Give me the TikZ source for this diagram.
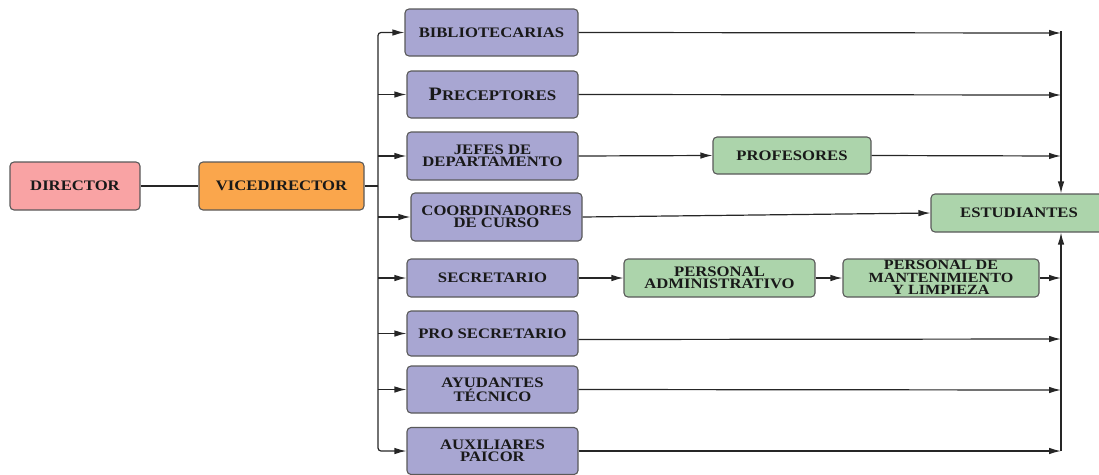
\documentclass[tikz,border=0pt]{standalone}
\usepackage{fontspec}
\newfontfamily\lab[FakeStretch=1.15]{Liberation Serif}
\usetikzlibrary{arrows.meta}
\definecolor{cdir}{RGB}{249,163,164}
\definecolor{cvice}{RGB}{250,166,76}
\definecolor{cpur}{RGB}{168,166,210}
\definecolor{cgrn}{RGB}{172,212,171}
\begin{document}
\begin{tikzpicture}[x=1pt,y=-1pt,
 box/.style={draw=black!65, line width=1.1pt, rounded corners=4pt, align=center,
   font=\lab\bfseries\fontsize{14.5}{12.5}\selectfont, inner sep=0pt, text=black!90},
 pur/.style={box, fill=cpur},
 grn/.style={box, fill=cgrn},
 txt/.style={align=center, inner sep=0pt, font=\lab\bfseries\fontsize{14.5}{12.5}\selectfont, text=black!90},
 arr/.style={-{Latex[length=12pt,width=6.5pt]}, line width=1.2pt, draw=black!85},
 ln/.style={line width=1.2pt, draw=black!85}]
\useasboundingbox (0,0) rectangle (1099,474);
% left column
\node[box, fill=cdir, minimum width=130pt, minimum height=48pt] (dir) at (75,186) {DIRECTOR};
\node[box, fill=cvice, minimum width=165pt, minimum height=48pt] (vice) at (281.5,186) {VICEDIRECTOR};
% middle column
\node[pur, minimum width=173pt, minimum height=47pt] (bib) at (491.5,32.5) {BIBLIOTECARIAS};
\node[pur, minimum width=171pt, minimum height=47pt] (pre) at (492.5,94.5) {{\fontsize{19}{19}\selectfont P}{\fontsize{14.7}{14}\selectfont RECEPTORES}};
\node[pur, minimum width=171pt, minimum height=48pt] (jef) at (492.5,156) {JEFES DE\\DEPARTAMENTO};
\node[pur, minimum width=171pt, minimum height=48pt] (coo) at (496.5,217) {COORDINADORES\\DE CURSO};
\node[pur, minimum width=171pt, minimum height=38pt] (sec) at (492.5,278) {SECRETARIO};
\node[pur, minimum width=171pt, minimum height=45pt] (pro) at (492.5,333.5) {PRO SECRETARIO};
\node[pur, minimum width=171pt, minimum height=47pt] (ayu) at (492.5,389.5) {AYUDANTES\\TÉCNICO};
\node[pur, minimum width=171pt, minimum height=47pt] (aux) at (492.5,451) {AUXILIARES\\PAICOR};
% right part
\node[grn, minimum width=158pt, minimum height=37pt] (prof) at (792,155.5) {PROFESORES};
\node[grn, minimum width=176pt, minimum height=38pt] (est) at (1019,213) {ESTUDIANTES};
\node[grn, minimum width=191pt, minimum height=38pt] (adm) at (719.5,278) {PERSONAL\\ADMINISTRATIVO};
\node[grn, minimum width=196pt, minimum height=38pt] (mant) at (941,278) {};
\node[txt, font=\lab\bfseries\fontsize{14}{12.8}\selectfont] (mantt) at (941,277.5) {PERSONAL DE\\MANTENIMIENTO\\Y LIMPIEZA};
% coordinates
\coordinate (lb) at (378,186);
\coordinate (r1) at (1061,33);
\coordinate (r2) at (1061,95);
\coordinate (r3) at (1061,156);
\coordinate (r5) at (1061,278);
\coordinate (r6) at (1061,339);
\coordinate (r7) at (1061,390);
\coordinate (r8) at (1061,451);
% connectors
\draw[ln] (dir.east) -- (vice.west);
\draw[ln] (vice.east) -- (lb);
\draw[arr, rounded corners=3pt] (lb) |- (bib.west);
\draw[arr, rounded corners=3pt] (lb) |- (aux.west);
\foreach \n in {pre,jef,coo,sec,pro,ayu}{\draw[arr] (lb |- \n.west) -- (\n.west);}
\draw[arr] (bib.east) -- (r1);
\draw[arr] (pre.east) -- (r2);
\draw[arr] (jef.east) -- (prof.west);
\draw[arr] (prof.east) -- (r3);
\draw[arr] (coo.east) -- (est.west);
\draw[arr] (sec.east) -- (adm.west);
\draw[arr] (adm.east) -- (mant.west);
\draw[arr] (mant.east) -- (r5);
\draw[arr] ([yshift=-6pt]pro.east) -- (r6);
\draw[arr] (ayu.east) -- (r7);
\draw[arr] (aux.east) -- (r8);
\draw[arr] ([yshift=2pt]r1) -- (r1 |- est.north);
\draw[arr] (r8) -- (r8 |- est.south);
\end{tikzpicture}
\end{document}
